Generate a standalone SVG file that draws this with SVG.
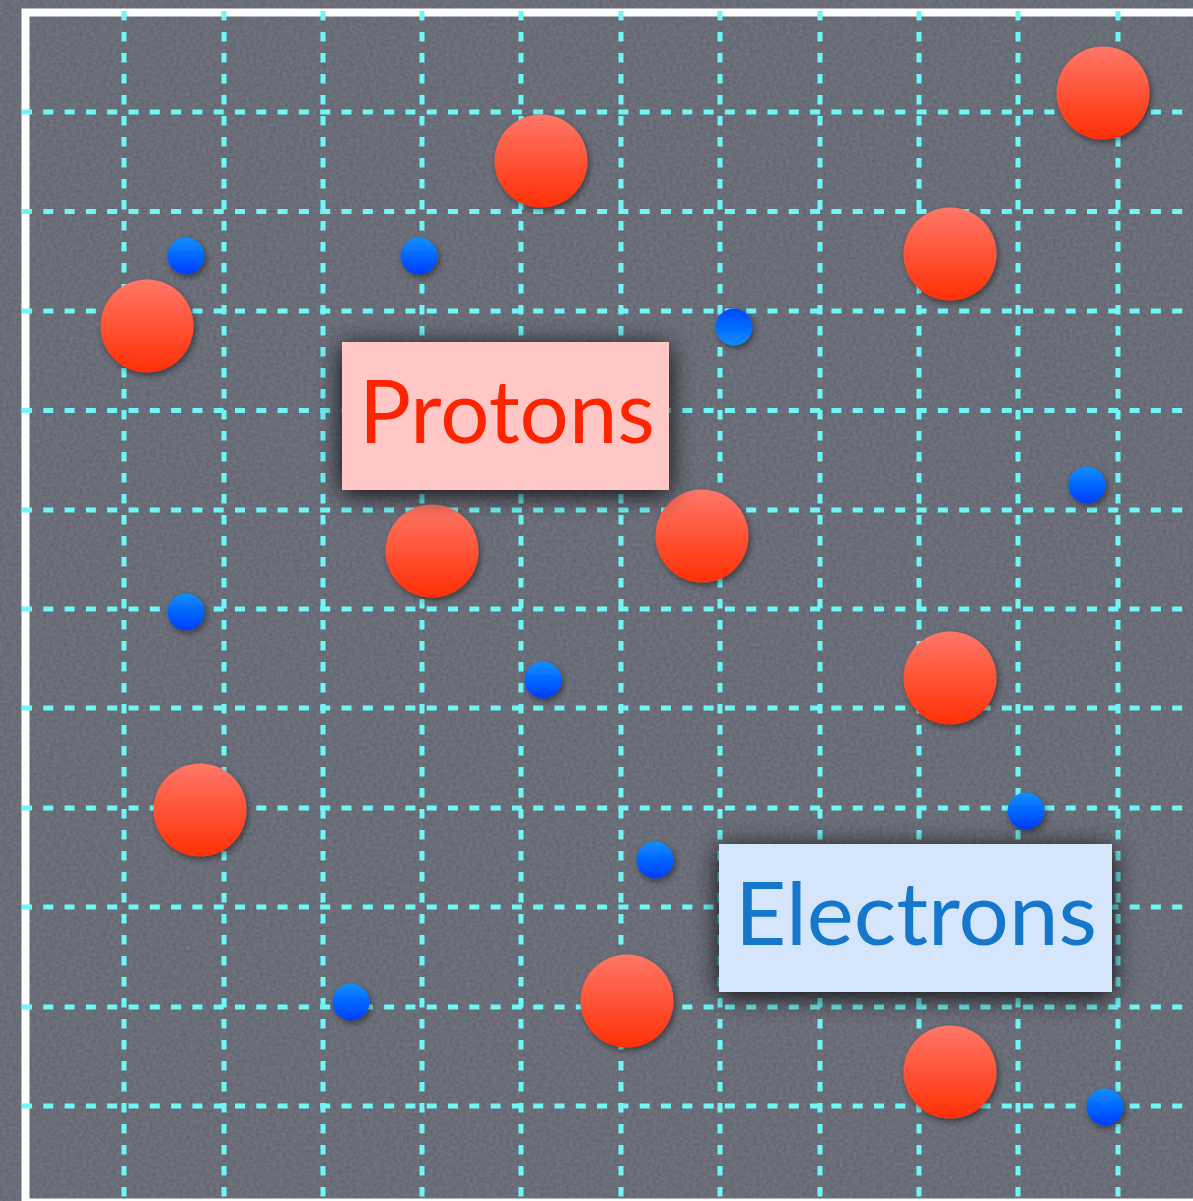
<svg xmlns="http://www.w3.org/2000/svg" xmlns:xlink="http://www.w3.org/1999/xlink" width="1193" height="1201" viewBox="0 0 1193 1201">
<style>
.grid{fill:none;stroke:#6ff7f7;stroke-width:5;}
.gh{stroke-dasharray:10 11.3;}
.gv{stroke-dasharray:9.5 11.5;}
.frame{fill:none;stroke:#ffffff;stroke-width:8;}
.proton{fill:url(#pg);filter:url(#ps);}
.electron{fill:url(#eg);filter:url(#ps);}
.electronR{fill:url(#egr);filter:url(#ps);}
.lbl{font-family:"Lato","Noto Sans","Liberation Sans",sans-serif;font-size:88px;}
</style>
<defs>
<linearGradient id="pg" x1="0" y1="0" x2="0" y2="1">
<stop offset="0" stop-color="#ff7767"/>
<stop offset="1" stop-color="#ff2f06"/>
</linearGradient>
<linearGradient id="eg" x1="0" y1="0" x2="0" y2="1">
<stop offset="0" stop-color="#0a8fff"/>
<stop offset="1" stop-color="#003cff"/>
</linearGradient>
<linearGradient id="egr" x1="0" y1="0" x2="0" y2="1">
<stop offset="0" stop-color="#0048ff"/>
<stop offset="1" stop-color="#0a8cff"/>
</linearGradient>
<filter id="ps" x="-40%" y="-40%" width="180%" height="180%">
<feDropShadow dx="2" dy="3" stdDeviation="3" flood-color="#000" flood-opacity="0.45"/>
</filter>
<filter id="ls" x="-30%" y="-50%" width="160%" height="200%">
<feDropShadow dx="0" dy="4" stdDeviation="13" flood-color="#000" flood-opacity="0.9"/>
</filter>
<filter id="tex" x="0" y="0" width="100%" height="100%">
<feTurbulence type="fractalNoise" baseFrequency="0.3" numOctaves="2" seed="3" result="n"/>
<feColorMatrix in="n" type="matrix" values="0 0 0 0 0.40  0 0 0 0 0.41  0 0 0 0 0.47  0 0 0 0.25 0" result="c"/>
<feComposite in="c" in2="SourceGraphic" operator="over"/>
</filter>
</defs>

<g id="background">
<rect x="0" y="0" width="1193" height="1201" fill="#5c606b" filter="url(#tex)"/>
</g>

<g id="frame">
<rect class="frame" x="25.5" y="12.5" width="1200" height="1190"/>
</g>

<g id="grid" class="grid">
<path class="gh" d="M22 112H1193M22 211.5H1193M22 311H1193M22 410.5H1193M22 510H1193M22 609H1193M22 708H1193M22 808H1193M22 907H1193M22 1007H1193M22 1106H1193"/>
<path class="gv" d="M124 11V1201M224 11V1201M323 11V1201M422 11V1201M521 11V1201M621 11V1201M720 11V1201M820 11V1201M919 11V1201M1018 11V1201M1118 11V1201"/>
</g>

<g id="protons">
<g id="proton-1"><circle class="proton" cx="541" cy="161" r="46.5"/></g>
<g id="proton-2"><circle class="proton" cx="1103" cy="93" r="46.5"/></g>
<g id="proton-3"><circle class="proton" cx="950" cy="254" r="46.5"/></g>
<g id="proton-4"><circle class="proton" cx="147" cy="326" r="46.5"/></g>
<g id="proton-5"><circle class="proton" cx="432" cy="551" r="46.5"/></g>
<g id="proton-6"><circle class="proton" cx="702" cy="536" r="46.5"/></g>
<g id="proton-7"><circle class="proton" cx="950" cy="678" r="46.5"/></g>
<g id="proton-8"><circle class="proton" cx="200" cy="810" r="46.5"/></g>
<g id="proton-9"><circle class="proton" cx="627" cy="1001" r="46.5"/></g>
<g id="proton-10"><circle class="proton" cx="950" cy="1072" r="46.5"/></g>
</g>

<g id="electrons">
<g id="electron-1"><circle class="electron" cx="186" cy="256" r="18.5"/></g>
<g id="electron-2"><circle class="electron" cx="419" cy="256" r="18.5"/></g>
<g id="electron-3"><circle class="electronR" cx="734" cy="327" r="18.5"/></g>
<g id="electron-4"><circle class="electron" cx="1087" cy="485" r="18.5"/></g>
<g id="electron-5"><circle class="electron" cx="186" cy="612" r="18.5"/></g>
<g id="electron-6"><circle class="electron" cx="543" cy="680" r="18.5"/></g>
<g id="electron-7"><circle class="electron" cx="1026" cy="811" r="18.5"/></g>
<g id="electron-8"><circle class="electron" cx="655" cy="860" r="18.5"/></g>
<g id="electron-9"><circle class="electron" cx="351" cy="1002" r="18.5"/></g>
<g id="electron-10"><circle class="electron" cx="1105" cy="1107" r="18.5"/></g>
</g>

<g id="label-protons">
<rect x="342" y="342" width="327" height="148" fill="#ffc8c6" filter="url(#ls)"/>
<text class="lbl" x="359" y="443" fill="#ff2400" textLength="296" lengthAdjust="spacingAndGlyphs">Protons</text>
</g>

<g id="label-electrons">
<rect x="719" y="844" width="393" height="148" fill="#d5e6fc" filter="url(#ls)"/>
<text class="lbl" x="735" y="945" fill="#1577cc" textLength="362" lengthAdjust="spacingAndGlyphs">Electrons</text>
</g>
</svg>
